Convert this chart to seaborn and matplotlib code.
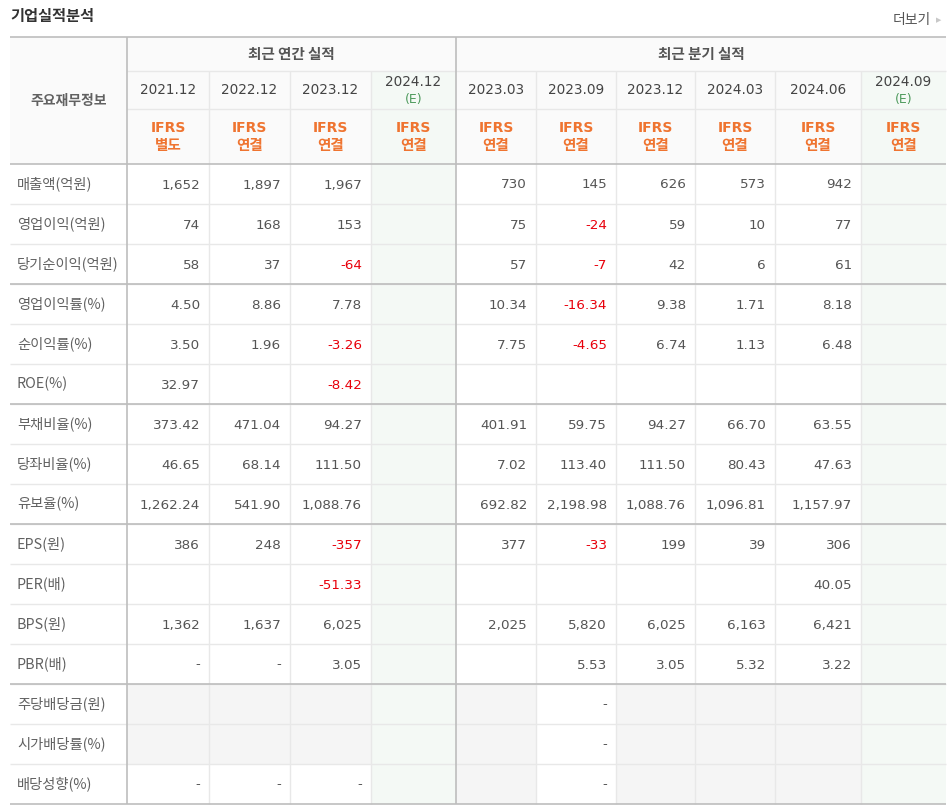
import numpy as np
import matplotlib
matplotlib.use("Agg")
import matplotlib.pyplot as plt
from matplotlib.colors import ListedColormap
import seaborn as sns

# --------------------------------
# DATA
# --------------------------------

annual_periods = ["2021.12", "2022.12", "2023.12", "2024.12"]
quarter_periods = ["2023.03", "2023.09", "2023.12", "2024.03", "2024.06", "2024.09"]
periods = annual_periods + quarter_periods
estimate = [False, False, False, True, False, False, False, False, False, True]
ifrs_kind = ["별도", "연결", "연결", "연결", "연결", "연결", "연결", "연결", "연결", "연결"]

row_labels = [
    "매출액(억원)", "영업이익(억원)", "당기순이익(억원)",
    "영업이익률(%)", "순이익률(%)", "ROE(%)",
    "부채비율(%)", "당좌비율(%)", "유보율(%)",
    "EPS(원)", "PER(배)", "BPS(원)", "PBR(배)",
    "주당배당금(원)", "시가배당률(%)", "배당성향(%)",
]

values = [
    ["1,652", "1,897", "1,967", "", "730", "145", "626", "573", "942", ""],
    ["74", "168", "153", "", "75", "-24", "59", "10", "77", ""],
    ["58", "37", "-64", "", "57", "-7", "42", "6", "61", ""],
    ["4.50", "8.86", "7.78", "", "10.34", "-16.34", "9.38", "1.71", "8.18", ""],
    ["3.50", "1.96", "-3.26", "", "7.75", "-4.65", "6.74", "1.13", "6.48", ""],
    ["32.97", "", "-8.42", "", "", "", "", "", "", ""],
    ["373.42", "471.04", "94.27", "", "401.91", "59.75", "94.27", "66.70", "63.55", ""],
    ["46.65", "68.14", "111.50", "", "7.02", "113.40", "111.50", "80.43", "47.63", ""],
    ["1,262.24", "541.90", "1,088.76", "", "692.82", "2,198.98", "1,088.76", "1,096.81", "1,157.97", ""],
    ["386", "248", "-357", "", "377", "-33", "199", "39", "306", ""],
    ["", "", "-51.33", "", "", "", "", "", "40.05", ""],
    ["1,362", "1,637", "6,025", "", "2,025", "5,820", "6,025", "6,163", "6,421", ""],
    ["-", "-", "3.05", "", "", "5.53", "3.05", "5.32", "3.22", ""],
    ["", "", "", "", "", "-", "", "", "", ""],
    ["", "", "", "", "", "-", "", "", "", ""],
    ["-", "-", "-", "", "", "-", "", "", "", ""],
]

# row groups separated by darker lines
group_sizes = [3, 3, 3, 4, 3]

# --------------------------------
# LAYOUT (pixels)
# --------------------------------

col_edges = [10, 127, 209, 290, 371, 456, 536, 616, 695, 775, 861, 946]
head_top, head_r1, head_r2, body_top = 37, 71, 109, 164
row_h = 40
row_edges = [body_top + row_h * i for i in range(len(row_labels) + 1)]

C_TEXT = "#555555"
C_LABEL = "#616161"
C_RED = "#e8000b"
C_ORANGE = "#ef7430"
C_GREEN = "#4d9a5c"
C_LINE_DARK = "#bdbdbd"
C_LINE_LIGHT = "#e8e8e8"
BG_HEAD = "#fafafa"
BG_GREY = "#f5f5f5"
BG_GREEN = "#f4f9f5"
KR = ["Noto Sans CJK KR", "DejaVu Sans"]

sns.set_theme(style="white")
plt.rcParams["font.family"] = ["DejaVu Sans", "Noto Sans CJK KR"]

fig = plt.figure(figsize=(9.52, 8.05), dpi=100)
ax = fig.add_axes([0, 0, 1, 1])
ax.set_xlim(0, 952)
ax.set_ylim(805, 0)
ax.axis("off")

# --------------------------------
# BODY BACKGROUND
# --------------------------------

n_rows = len(row_labels)
n_cols = len(periods)
div_start = sum(group_sizes[:-1])
codes = np.zeros((n_rows, n_cols + 1))
for r in range(n_rows):
    for c in range(n_cols):
        if estimate[c]:
            codes[r, c + 1] = 2
        elif r >= div_start and values[r][c] == "":
            codes[r, c + 1] = 1
cmap = ListedColormap(["#ffffff", BG_GREY, BG_GREEN])
ax.pcolormesh(col_edges, row_edges, codes, cmap=cmap, vmin=-0.5, vmax=2.5,
              shading="flat", zorder=0)

# --------------------------------
# HEADER
# --------------------------------

ax.add_patch(plt.Rectangle((col_edges[0], head_top), col_edges[-1] - col_edges[0],
                           body_top - head_top, color=BG_HEAD, lw=0, zorder=0))
for c in range(n_cols):
    if estimate[c]:
        ax.add_patch(plt.Rectangle((col_edges[c + 1], head_r1),
                                   col_edges[c + 2] - col_edges[c + 1],
                                   body_top - head_r1, color=BG_GREEN, lw=0, zorder=0))

ax.text(10, 16, "기업실적분석", fontsize=11, fontweight="bold", color="#333333",
        ha="left", va="center", family=KR)
ax.text(931, 20, "더보기", fontsize=10, color=C_TEXT, ha="right", va="center",
        family=KR)
ax.text(939, 20, "▶", fontsize=5, color="#c8c8c8", ha="center", va="center")

ax.text((col_edges[0] + col_edges[1]) / 2, 101, "주요재무정보", fontsize=10,
        fontweight="bold", color=C_LABEL, ha="center", va="center", family=KR)
ax.text((col_edges[1] + col_edges[5]) / 2, 54, "최근 연간 실적", fontsize=10.5,
        fontweight="bold", color=C_TEXT, ha="center", va="center", family=KR)
ax.text((col_edges[5] + col_edges[-1]) / 2, 54, "최근 분기 실적", fontsize=10.5,
        fontweight="bold", color=C_TEXT, ha="center", va="center", family=KR)

for c, p in enumerate(periods):
    cx = (col_edges[c + 1] + col_edges[c + 2]) / 2
    if estimate[c]:
        ax.text(cx, 82, p, fontsize=9.8, color="#444444", ha="center", va="center")
        ax.text(cx, 99, "(E)", fontsize=9, color=C_GREEN, ha="center", va="center")
    else:
        ax.text(cx, 90, p, fontsize=9.8, color="#444444", ha="center", va="center")
    ax.text(cx, 128, "IFRS", fontsize=10, fontweight="bold", color=C_ORANGE,
            ha="center", va="center")
    ax.text(cx, 145, ifrs_kind[c], fontsize=10.5, fontweight="bold", color=C_ORANGE,
            ha="center", va="center", family=KR)

# --------------------------------
# BODY TEXT
# --------------------------------

for r, lab in enumerate(row_labels):
    cy = (row_edges[r] + row_edges[r + 1]) / 2
    ax.text(17, cy, lab, fontsize=10.3, color=C_LABEL, ha="left", va="center",
            family=KR)
    for c, v in enumerate(values[r]):
        if v == "":
            continue
        color = C_RED if v.startswith("-") and len(v) > 1 else C_TEXT
        ax.text(col_edges[c + 2] - 9, cy + 1, v, fontsize=9.7, color=color,
                ha="right", va="center")

# --------------------------------
# GRID LINES
# --------------------------------

# light lines
ax.hlines(head_r1, col_edges[1], col_edges[-1], color=C_LINE_LIGHT, lw=1, zorder=2)
ax.hlines(head_r2, col_edges[1], col_edges[-1], color=C_LINE_LIGHT, lw=1, zorder=2)
for x in col_edges[2:-1]:
    if x == col_edges[5]:
        continue
    ax.vlines(x, head_r1, row_edges[-1], color=C_LINE_LIGHT, lw=1, zorder=2)
ax.hlines(row_edges[1:-1], col_edges[0], col_edges[-1], color=C_LINE_LIGHT, lw=1, zorder=2)

# darker lines
group_edges = [row_edges[0]]
for g in group_sizes:
    group_edges.append(group_edges[-1] + g * row_h)
ax.hlines([head_top] + group_edges, col_edges[0], col_edges[-1],
          color=C_LINE_DARK, lw=1.2, zorder=3)
ax.vlines([col_edges[1], col_edges[5]], head_top, row_edges[-1],
          color=C_LINE_DARK, lw=1.2, zorder=3)

fig.savefig("out.png", dpi=100)
